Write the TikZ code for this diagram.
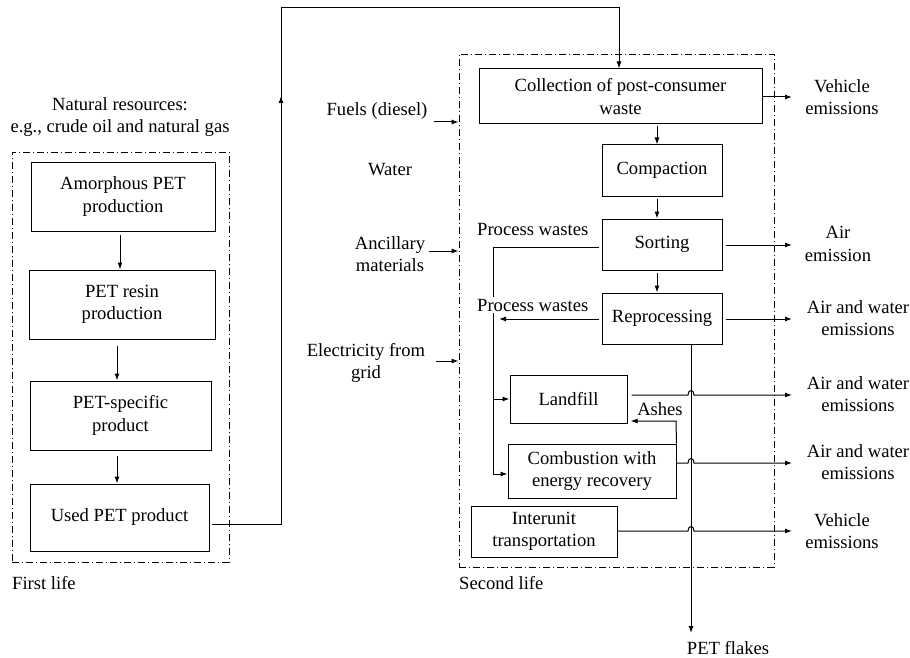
\documentclass[tikz,border=0pt]{standalone}
\usepackage{fontspec}
\setmainfont{Liberation Serif}
\usetikzlibrary{arrows.meta}
\begin{document}
\begin{tikzpicture}[x=1pt,y=-1pt,
  font=\fontsize{18.6}{22.5}\selectfont,
  box/.style={draw,line width=1pt,align=center,inner sep=0pt},
  lbl/.style={align=center,inner sep=0pt},
  arr/.style={line width=1pt,-{Latex[length=7pt,width=5pt]}},
  ln/.style={line width=1pt},
  frame/.style={draw,line width=0.9pt,dash pattern=on 7pt off 3pt on 1pt off 3pt,inner sep=0pt}]
\useasboundingbox (0,0) rectangle (910,658);
% frames
\node[frame,minimum width=217pt,minimum height=410pt] (life1) at (120.5,357) {};
\node[frame,minimum width=315pt,minimum height=513pt] (life2) at (616.5,310.5) {};
% first life boxes
\node[box,minimum width=184pt,minimum height=69pt] (amorph) at (123,196.5) {Amorphous PET\\production};
\node[box,minimum width=186pt,minimum height=69pt] (resin) at (122,304.5) {PET resin\\production};
\node[box,minimum width=181pt,minimum height=69pt] (spec) at (120.5,415.5) {PET-specific\\product};
\node[box,minimum width=179pt,minimum height=67pt] (used) at (119.5,517.5) {Used PET product};
% second life boxes
\node[box,minimum width=283pt,minimum height=55pt] (collect) at (620.5,96.5) {Collection of post-consumer\\waste};
\node[box,minimum width=120pt,minimum height=51pt] (compact) at (662,170.5) {Compaction};
\node[box,minimum width=120pt,minimum height=51pt] (sort) at (662,244.5) {Sorting};
\node[box,minimum width=120pt,minimum height=51pt] (reproc) at (662,318.5) {Reprocessing};
\node[box,minimum width=117pt,minimum height=48pt] (landfill) at (568.5,399) {Landfill};
\node[box,minimum width=168pt,minimum height=54pt] (combust) at (592,471) {Combustion with\\energy recovery};
\node[box,minimum width=146pt,minimum height=51pt] (inter) at (544,531.5) {Interunit\\transportation};
% labels
\node[lbl] (natres) at (120,117) {Natural resources:\\e.g., crude oil and natural gas};
\node[lbl,anchor=west] (first) at (12,583) {First life};
\node[lbl,anchor=west] (second) at (459,583) {Second life};
\node[lbl] (fuels) at (377,111) {Fuels (diesel)};
\node[lbl] (water) at (390,170) {Water};
\node[lbl] (ancill) at (390,254) {Ancillary\\materials};
\node[lbl] (elec) at (366,363) {Electricity from\\grid};
\node[lbl] (veh1) at (842,97) {Vehicle\\emissions};
\node[lbl] (airem) at (838,244) {Air\\emission};
\node[lbl] (aw1) at (858,318) {Air and water\\emissions};
\node[lbl] (aw2) at (858,394) {Air and water\\emissions};
\node[lbl] (aw3) at (858,462) {Air and water\\emissions};
\node[lbl] (veh2) at (842,531) {Vehicle\\emissions};
\node[lbl,anchor=west] (pw1) at (477,229) {Process wastes};
\node[lbl] (ashes) at (660,409) {Ashes};
\node[lbl] (flakes) at (728,648) {PET flakes};
% first life arrows
\draw[arr] (120,235) -- (resin.north -| 120,0);
\draw[arr] (117,346) -- (spec.north -| 117,0);
\draw[arr] (117,456) -- (used.north -| 117,0);
% used -> collection
\draw[ln] ([xshift=2pt]used.east |- 0,524) -- (281,524) -- (281,100);
\draw[arr] (281,104) -- (281,96);
\draw[arr] (281,100) -- (281,8) -- (619,8) -- (collect.north -| 619,0);
% second life chain
\draw[arr] ([yshift=-2pt]collect.south -| 657,0) -- (compact.north -| 657,0);
\draw[arr] ([yshift=-2pt]compact.south -| 657,0) -- (sort.north -| 657,0);
\draw[arr] ([yshift=-2pt]sort.south -| 657,0) -- (reproc.north -| 657,0);
% inputs
\draw[arr] (434,122) -- (life2.west |- 0,122);
\draw[arr] (429,251) -- (life2.west |- 0,251);
\draw[arr] (436,361) -- (life2.west |- 0,361);
% outputs
\draw[arr] (collect.east |- 0,97) -- (792,97);
\draw[arr] ([xshift=3pt]sort.east |- 0,245) -- (792,245);
\draw[arr] ([xshift=3pt]reproc.east |- 0,319) -- (792,319);
\draw[arr] ([xshift=4pt]landfill.east |- 0,395) -- (688,395) .. controls (688,389) and (694,389) .. (694,395) -- (792,395);
\draw[arr] (combust.east |- 0,463) -- (688,463) .. controls (688,457) and (694,457) .. (694,463) -- (792,463);
\draw[arr] (inter.east |- 0,531) -- (688,531) .. controls (688,525) and (694,525) .. (694,531) -- (792,531);
% process wastes
\draw[arr] ([xshift=-3pt]sort.west |- 0,247) -- (493,247) -- (493,474) -- (combust.west |- 0,474);
\draw[arr] (493,399) -- (landfill.west);
\draw[arr] ([xshift=-3pt]reproc.west |- 0,319) -- (499,319);
\node[lbl,anchor=west,fill=white,inner ysep=2pt] (pw2) at (477,305) {Process wastes};
% ashes
\draw[arr] (combust.north east) -- (676,421) -- ([xshift=3pt]landfill.east |- 0,421);
% PET flakes
\draw[arr] (reproc.south -| 691,0) -- (691,633);
\end{tikzpicture}
\end{document}
